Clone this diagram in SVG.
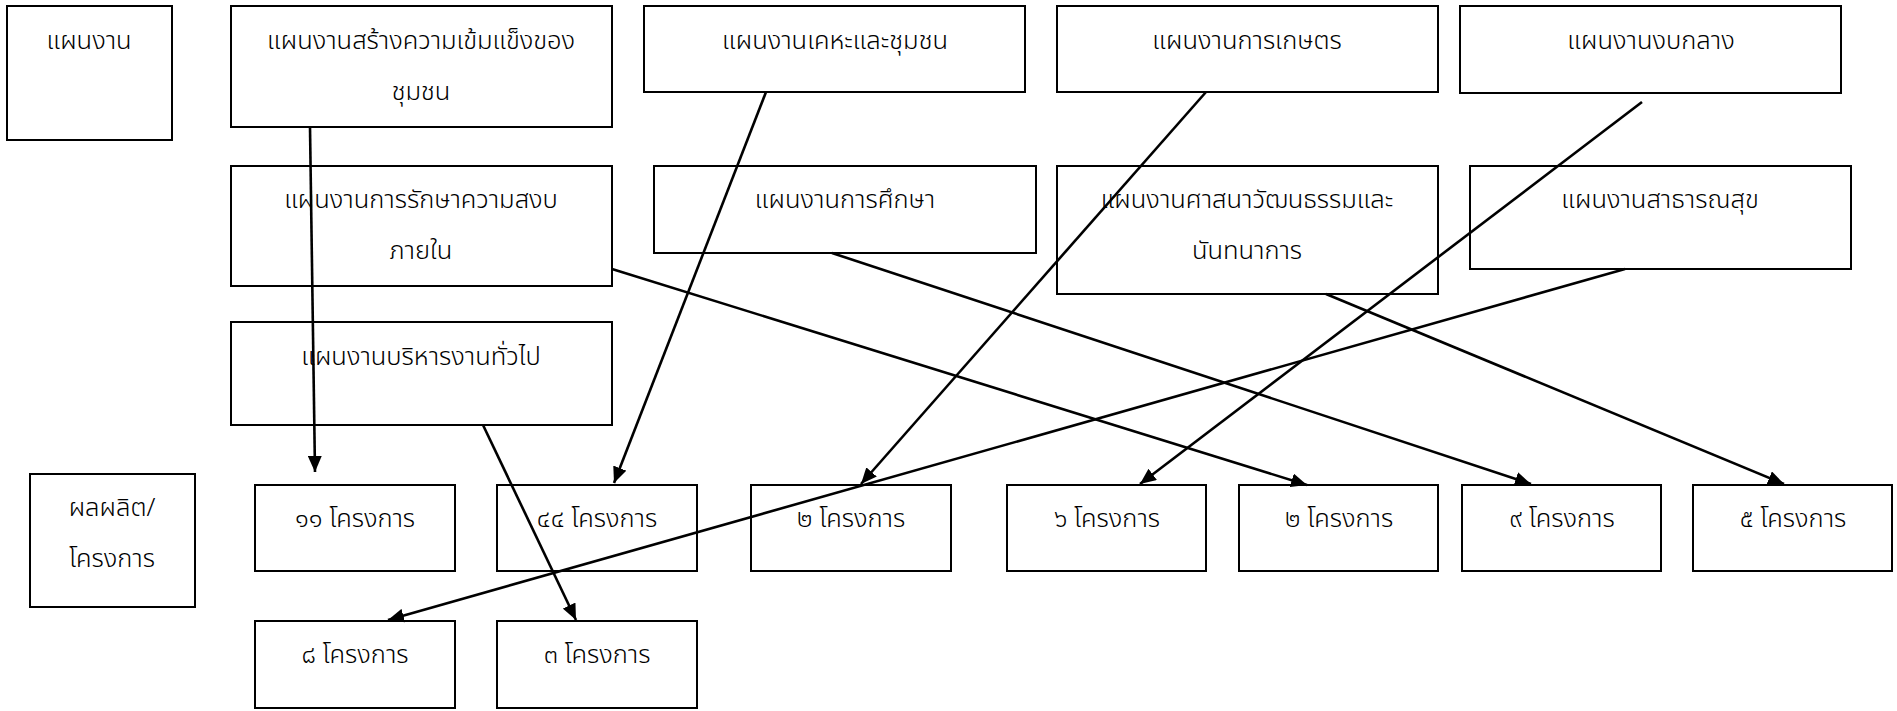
<svg xmlns="http://www.w3.org/2000/svg" width="1897" height="711" viewBox="0 0 1897 711">
<style>
rect{fill:#fff;stroke:#000;stroke-width:2}
text{font-family:"Noto Sans Thai","Noto Sans","Liberation Sans",sans-serif;font-size:25.5px;font-weight:300;fill:#000;text-anchor:middle}
.c{stroke:#000;stroke-width:2.6;fill:none;marker-end:url(#ah)}
</style>
<defs>
<marker id="ah" markerUnits="userSpaceOnUse" markerWidth="17" markerHeight="14" refX="16" refY="7" orient="auto">
<path d="M0,0 L16,7 L0,14 z" fill="#000"/>
</marker>
</defs>
<rect width="1897" height="711" style="stroke:none"/>
<g id="n-plan"><rect x="7" y="6" width="165" height="134"/><text x="89" y="49">แผนงาน</text></g>
<g id="n-strength"><rect x="231" y="6" width="381" height="121"/><text x="421" y="49">แผนงานสร้างความเข้มแข็งของ</text><text x="421" y="100">ชุมชน</text></g>
<g id="n-housing"><rect x="644" y="6" width="381" height="86"/><text x="835" y="49">แผนงานเคหะและชุมชน</text></g>
<g id="n-agri"><rect x="1057" y="6" width="381" height="86"/><text x="1247" y="49">แผนงานการเกษตร</text></g>
<g id="n-central"><rect x="1460" y="6" width="381" height="87"/><text x="1651" y="49">แผนงานงบกลาง</text></g>
<g id="n-peace"><rect x="231" y="166" width="381" height="120"/><text x="421" y="208">แผนงานการรักษาความสงบ</text><text x="421" y="259">ภายใน</text></g>
<g id="n-edu"><rect x="654" y="166" width="382" height="87"/><text x="845" y="208">แผนงานการศึกษา</text></g>
<g id="n-religion"><rect x="1057" y="166" width="381" height="128"/><text x="1247" y="208">แผนงานศาสนาวัฒนธรรมและ</text><text x="1247" y="259">นันทนาการ</text></g>
<g id="n-health"><rect x="1470" y="166" width="381" height="103"/><text x="1660" y="208">แผนงานสาธารณสุข</text></g>
<g id="n-admin"><rect x="231" y="322" width="381" height="103"/><text x="421" y="365">แผนงานบริหารงานทั่วไป</text></g>
<g id="n-output"><rect x="30" y="474" width="165" height="133"/><text x="112" y="516">ผลผลิต/</text><text x="112" y="567">โครงการ</text></g>
<g id="o1"><rect x="255" y="485" width="200" height="86"/><text x="355" y="527">๑๑ โครงการ</text></g>
<g id="o2"><rect x="497" y="485" width="200" height="86"/><text x="597" y="527">๔๔ โครงการ</text></g>
<g id="o3"><rect x="751" y="485" width="200" height="86"/><text x="851" y="527">๒ โครงการ</text></g>
<g id="o4"><rect x="1007" y="485" width="199" height="86"/><text x="1107" y="527">๖ โครงการ</text></g>
<g id="o5"><rect x="1239" y="485" width="199" height="86"/><text x="1339" y="527">๒ โครงการ</text></g>
<g id="o6"><rect x="1462" y="485" width="199" height="86"/><text x="1562" y="527">๙ โครงการ</text></g>
<g id="o7"><rect x="1693" y="485" width="199" height="86"/><text x="1793" y="527">๕ โครงการ</text></g>
<g id="o8"><rect x="255" y="621" width="200" height="87"/><text x="355" y="663">๘ โครงการ</text></g>
<g id="o9"><rect x="497" y="621" width="200" height="87"/><text x="597" y="663">๓ โครงการ</text></g>
<g id="connectors">
<line class="c" x1="310" y1="127" x2="315" y2="472"/>
<line class="c" x1="766" y1="92" x2="614" y2="483"/>
<line class="c" x1="1206" y1="92" x2="861" y2="484"/>
<line class="c" x1="1642" y1="102" x2="1140" y2="484"/>
<line class="c" x1="612" y1="269" x2="1307" y2="485"/>
<line class="c" x1="832" y1="253" x2="1531" y2="484"/>
<line class="c" x1="1326" y1="294" x2="1784" y2="484"/>
<line class="c" x1="1625" y1="269" x2="388" y2="620"/>
<line class="c" x1="483" y1="425" x2="576" y2="620"/>
</g>
</svg>
